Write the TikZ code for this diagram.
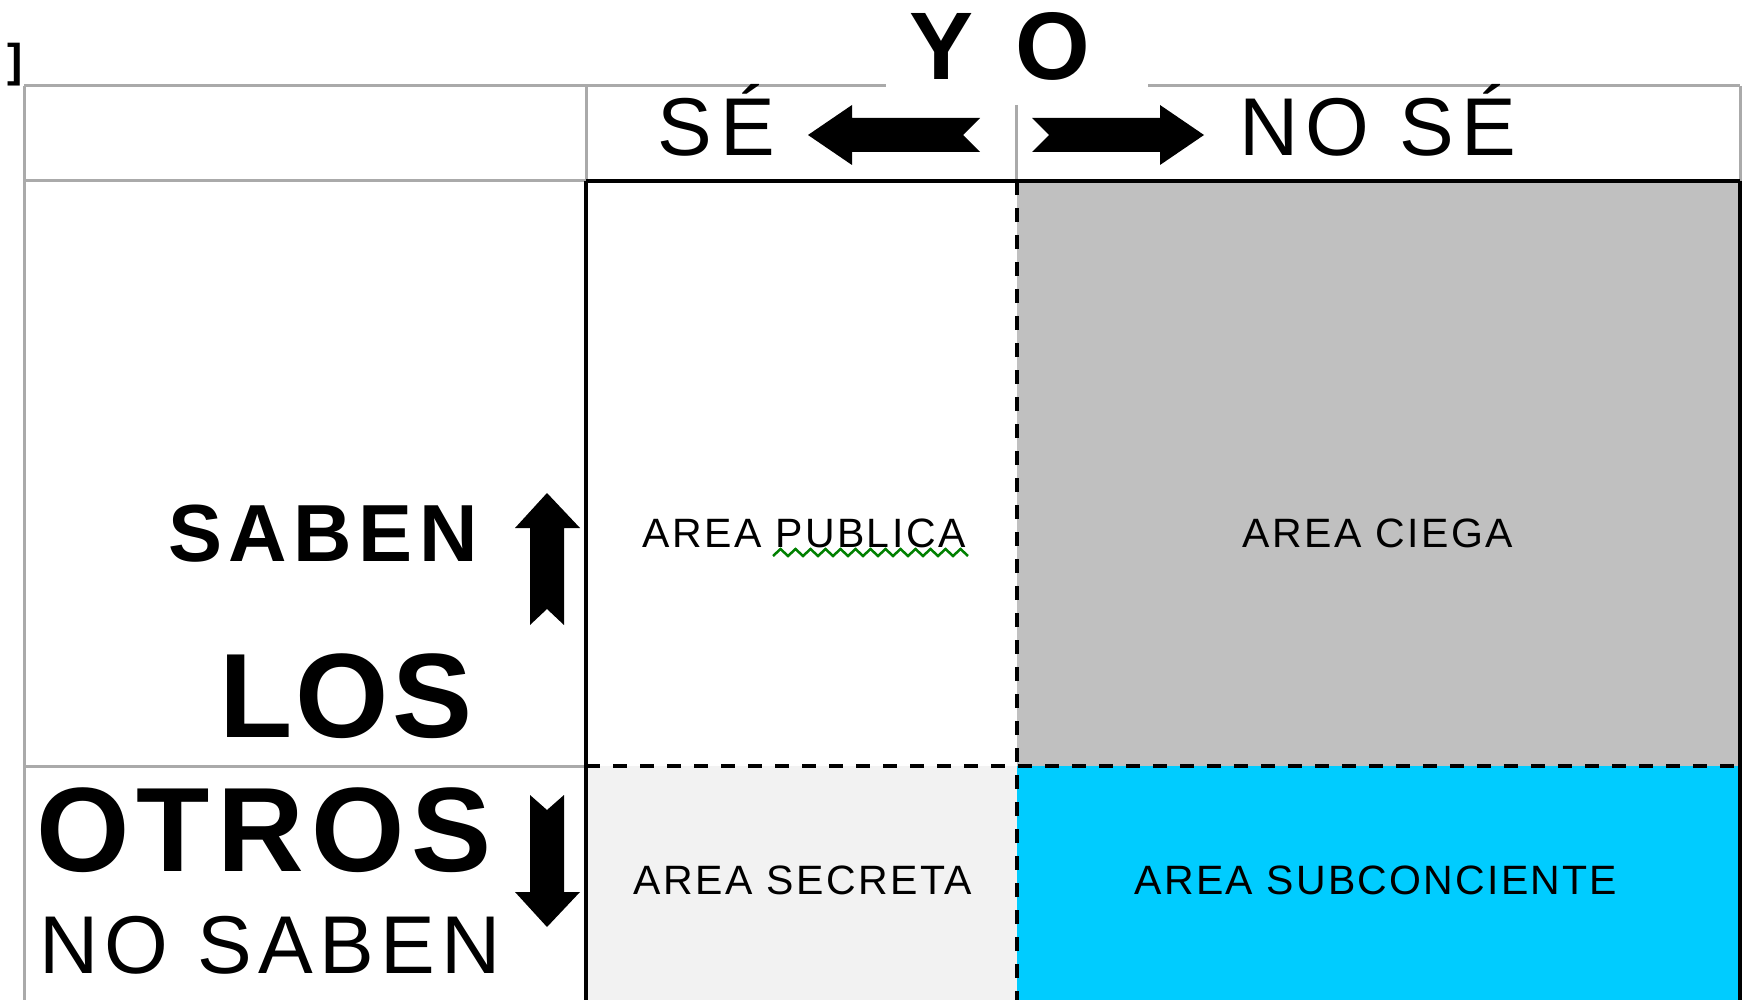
\documentclass[tikz,border=0pt]{standalone}
\usepackage{fontspec}
\setmainfont{Liberation Sans}
\definecolor{lgray}{HTML}{AAAAAA}
\definecolor{ciega}{HTML}{C0C0C0}
\definecolor{secreta}{HTML}{F2F2F2}
\definecolor{subc}{HTML}{00CCFF}
\definecolor{squig}{HTML}{008000}
\newcommand\myfs[2]{\fontsize{#1}{#1}\selectfont\addfontfeature{LetterSpace=#2}}
\tikzset{
  gline/.style={draw=lgray, line width=3pt},
  bline/.style={draw=black, line width=3.5pt},
  dline/.style={draw=black, line width=3.5pt, dash pattern=on 14pt off 13pt},
  lbl/.style={inner sep=0pt, anchor=base},
  blockarrow/.style={fill=black, draw=none},
}
\begin{document}
\begin{tikzpicture}[x=1pt,y=-1pt]
\useasboundingbox (0,0) rectangle (1743,1000);
% cell fills
\fill[ciega] (1017,181) rectangle (1740,766);
\fill[secreta] (586,766) rectangle (1017,1000);
\fill[subc] (1017,766) rectangle (1740,1000);
% gray outer table lines
\draw[gline] (24,86) -- (886,86);
\draw[gline] (1148,86) -- (1740,86);
\draw[gline] (24,86) -- (24,1000);
\draw[gline] (24,181) -- (586,181);
\draw[gline] (586,86) -- (586,181);
\draw[gline] (1016,105) -- (1016,181);
\draw[gline] (1740,86) -- (1740,181);
\draw[gline] (24,766) -- (586,766);
% black matrix lines
\draw[bline] (586,181) -- (1740,181);
\draw[bline] (586,181) -- (586,1000);
\draw[bline] (1740,181) -- (1740,1000);
\draw[dline] (1017,181) -- (1017,1000);
\draw[dline] (586,766) -- (1740,766);
% bracket
\node[inner sep=0pt, anchor=north west] (brk) at (7,43) {\fontsize{46}{46}\selectfont\bfseries ]};
% header texts
\node[lbl] (yo) at (1000,80) {\fontsize{96}{100}\selectfont\bfseries Y\hspace{42pt}O};
\node[lbl] (se) at (716,156) {\myfs{82}{10}SÉ};
\node[lbl] (nose) at (1378,156) {\myfs{82}{9}NO SÉ};
% header arrows
\fill[blockarrow] (808,135) -- (852,105) -- (852,118) -- (980,118) -- (963,135) -- (980,152) -- (852,152) -- (852,165) -- cycle;
\fill[blockarrow] (1204,135) -- (1160,105) -- (1160,118) -- (1032,118) -- (1049,135) -- (1032,152) -- (1160,152) -- (1160,165) -- cycle;
% left column texts
\node[lbl] (saben) at (323,561) {\myfs{81}{8}\bfseries SABEN};
\node[lbl] (los) at (346,737) {\myfs{120}{2.5}\bfseries LOS};
\node[lbl] (otros) at (264,871) {\myfs{120}{6}\bfseries OTROS};
\node[lbl] (nosaben) at (270,973) {\myfs{82}{7.5}NO SABEN};
% vertical arrows
\fill[blockarrow] (547,493) -- (580,528) -- (564,528) -- (564,625) -- (547,609) -- (530,625) -- (530,528) -- (515,528) -- cycle;
\fill[blockarrow] (547,927) -- (580,892) -- (564,892) -- (564,795) -- (547,810) -- (530,795) -- (530,892) -- (515,892) -- cycle;
% cell labels
\node[lbl] (publica) at (804,547) {\myfs{41}{6}AREA PUBLICA};
\node[lbl] (ciegat) at (1378,547) {\myfs{41}{6}AREA CIEGA};
\node[lbl] (secretat) at (803,894) {\myfs{41}{6}AREA SECRETA};
\node[lbl] (subct) at (1376,894) {\myfs{41}{5.5}AREA SUBCONCIENTE};
% grammar squiggle
\draw[squig, line width=2.5pt] (773,556) \foreach \i in {0,...,12} { -- ++(7.5,-7) -- ++(7.5,7) };
\end{tikzpicture}
\end{document}
